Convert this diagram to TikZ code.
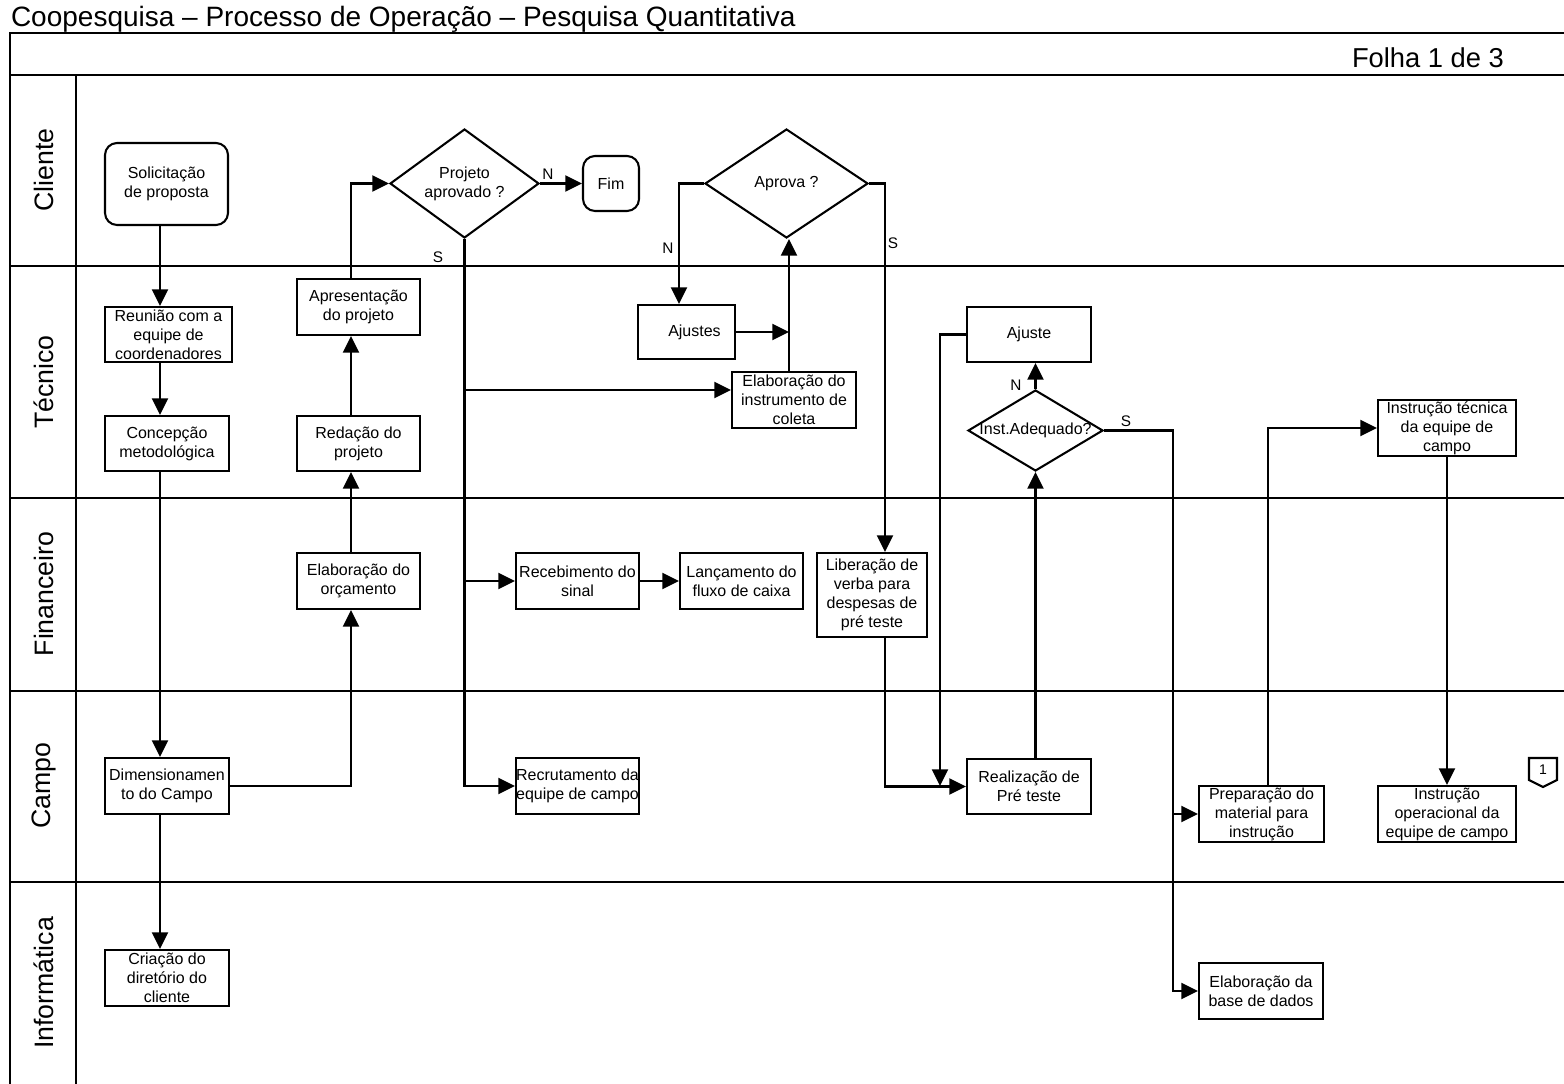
\documentclass[tikz,border=0pt]{standalone}
\usepackage{fontspec}
\setmainfont{Liberation Sans}
\usetikzlibrary{arrows.meta,shapes.geometric}

\begin{document}
\begin{tikzpicture}[x=0.75pt,y=-0.75pt,
  line width=1.55pt, line join=miter,
  every node/.style={font=\fontsize{12}{14.25}\selectfont},
  wh/.style 2 args={minimum width=#1*0.75pt, minimum height=#2*0.75pt},
  box/.style={draw, rectangle, inner sep=0pt, align=center},
  term/.style={box, rounded corners=9pt},
  dec/.style={draw, diamond, inner sep=0pt, align=center},
  arr/.style={-{Triangle[length=12.5pt,width=12pt]}},
  lbl/.style={font=\fontsize{11.5}{13}\selectfont, inner sep=0pt},
  lane/.style={rotate=90, inner sep=0pt, font=\fontsize{20}{24}\selectfont},
]
\useasboundingbox (0,0) rectangle (1564,1084);

% page frame, header band and swimlanes
\draw (10,1090) -- (10,33) -- (1570,33);
\draw (10,75) -- (1570,75);
\draw (76,75) -- (76,1090);
\foreach \ly in {266,498,691,882} \draw (10,\ly) -- (1570,\ly);

\node[anchor=base west, inner sep=0pt, font=\fontsize{21}{25}\selectfont] (title) at (10,27)
  {Coopesquisa – Processo de Operação – Pesquisa Quantitativa};
\node[anchor=base east, inner sep=0pt, font=\fontsize{20.5}{24}\selectfont] (folha) at (1505,68)
  {Folha 1 de 3};

\node[lane] (lnCli) at (44,170) {Cliente};
\node[lane] (lnTec) at (44,382) {Técnico};
\node[lane] (lnFin) at (44,594) {Financeiro};
\node[lane] (lnCam) at (44,786) {Campo};
\node[lane] (lnInf) at (44,983) {Informática};

% process steps
\node[term, wh={123}{82}] (sol) at (166.5,184) {Solicitação\\de proposta};
\node[box, wh={127}{55}] (reun) at (168.5,334.5) {Reunião com a\\equipe de\\coordenadores};
\node[box, wh={124}{55}] (conc) at (167,443.5) {Concepção\\metodológica};
\node[box, wh={123}{56}] (apres) at (358.5,307) {Apresentação\\do projeto};
\node[box, wh={123}{55}] (red) at (358.5,443.5) {Redação do\\projeto};
\node[box, wh={123}{56}] (orc) at (358.5,581) {Elaboração do\\orçamento};
\node[box, wh={124}{56}] (dim) at (167,786) {Dimensionamen\\to do Campo};
\node[box, wh={124}{56}] (cria) at (167,978) {Criação do\\diretório do\\cliente};
\node[box, wh={123}{56}] (rec) at (577.5,581) {Recebimento do\\sinal};
\node[box, wh={123}{56}] (lan) at (741.5,581) {Lançamento do\\fluxo de caixa};
\node[box, wh={123}{56}] (recr) at (577.5,786) {Recrutamento da\\equipe de campo};
\node[term, wh={56}{55}] (fim) at (611,183.5) {Fim};
\node[box, wh={97}{54}] (ajustes) at (686.5,332) {\hspace*{12pt}Ajustes};
\node[box, wh={124}{56}] (inst) at (794,400) {Elaboração do\\instrumento de\\coleta};
\node[box, wh={110}{84}] (lib) at (872,595) {Liberação de\\verba para\\despesas de\\pré teste};
\node[box, wh={124}{55}] (ajuste) at (1029,334.5) {Ajuste};
\node[box, wh={124}{55}] (real) at (1029,786.5) {Realização de\\Pré teste};
\node[box, wh={125}{56}] (prep) at (1261.5,814) {Preparação do\\material para\\instrução};
\node[box, wh={124}{56}] (base) at (1261,991) {Elaboração da\\base de dados};
\node[box, wh={138}{56}] (itec) at (1447,428) {Instrução técnica\\da equipe de\\campo};
\node[box, wh={138}{56}] (iop) at (1447,814) {Instrução\\operacional da\\equipe de campo};

% decisions
\node[dec, wh={149}{109}, shape aspect=1.367] (proj) at (464.5,183.5) {Projeto\\aprovado ?};
\node[dec, wh={163}{109}, shape aspect=1.5] (aprova) at (786.5,183.5) {\raisebox{-4pt}{Aprova ?}};
\node[dec, wh={135}{81}, shape aspect=1.667] (ia) at (1035.5,430.5) {\makebox[0pt]{Inst.Adequado?}};

% off-page connector
\draw (1529,758) -- (1557,758) -- (1557,780) -- (1543,787) -- (1529,780) -- cycle;
\node[font=\fontsize{10.5}{12}\selectfont, inner sep=0pt] (pg1) at (1543,770) {1};

% routing columns and rows
\coordinate (c160) at (160,0);
\coordinate (c351) at (351,0);
\coordinate (c679) at (679,0);
\coordinate (c789) at (789,0);
\coordinate (c885) at (885,0);
\coordinate (c1173) at (1173,0);
\coordinate (c1268) at (1268,0);
\coordinate (r390) at (0,390);
\coordinate (j940) at (940,786);

% connectors
\draw[arr] (sol.south -| c160) -- (reun.north -| c160);
\draw[arr] (reun.south -| c160) -- (conc.north -| c160);
\draw[arr] (conc.south -| c160) -- (dim.north -| c160);
\draw[arr] (dim.south -| c160) -- (cria.north -| c160);
\draw[arr] (dim.east) -| (orc.south -| c351);
\draw[arr] (orc.north -| c351) -- (red.south -| c351);
\draw[arr] (red.north -| c351) -- (apres.south -| c351);
\draw[arr] (apres.north -| c351) |- (proj.west);
\draw[arr] (proj.east) -- (fim.west);
\draw[arr] (proj.south) |- (recr.west);
\draw[arr] (proj.south |- r390) -- (inst.west |- r390);
\draw[arr] (proj.south |- rec.west) -- (rec.west);
\draw[arr] (rec.east) -- (lan.west);
\draw[arr] (aprova.west) -| (ajustes.north -| c679);
\draw[arr] (ajustes.east) -- (ajustes.east -| c789);
\draw[arr] (inst.north -| c789) -- (aprova.south -| c789);
\draw[arr] (aprova.east) -| (lib.north -| c885);
\draw[arr] (lib.south -| c885) |- (real.west);
\draw[arr] (ajuste.west) -| (j940);
\draw[arr] (ia.south |- real.north) -- (ia.south);
\draw[arr] (ia.north) -- (ia.north |- ajuste.south);
\draw[arr] (ia.east) -| (c1173 |- base.west) -- (base.west);
\draw[arr] (c1173 |- prep.west) -- (prep.west);
\draw[arr] (prep.north -| c1268) |- (itec.west);
\draw[arr] (itec.south) -- (iop.north);

% branch labels
\node[lbl] (nProj) at (548,174) {N};
\node[lbl] (sProj) at (438,257) {S};
\node[lbl] (nApr) at (668,248) {N};
\node[lbl] (sApr) at (893,243) {S};
\node[lbl] (nIa) at (1016,385) {N};
\node[lbl] (sIa) at (1126,421) {S};
\end{tikzpicture}
\end{document}
